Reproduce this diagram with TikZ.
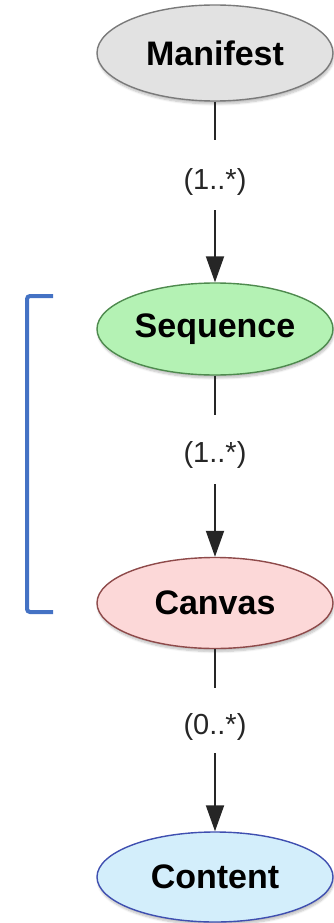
\documentclass[tikz,border=0pt]{standalone}
\usepackage{fontspec}
\setmainfont{Liberation Sans}
\usetikzlibrary{shapes.geometric,arrows.meta,shadows.blur}
\definecolor{mgfill}{HTML}{E2E2E2}\definecolor{mgdraw}{HTML}{7A7A7A}
\definecolor{sqfill}{HTML}{B4F2B4}\definecolor{sqdraw}{HTML}{4E8A4E}
\definecolor{cvfill}{HTML}{FCD8D8}\definecolor{cvdraw}{HTML}{8E4A4A}
\definecolor{ctfill}{HTML}{D3EEFB}\definecolor{ctdraw}{HTML}{3F4FB0}
\definecolor{brk}{HTML}{4472C4}
\definecolor{ln}{HTML}{262626}
\tikzset{
  cls/.style={ellipse, draw, line width=1.4pt, minimum width=236pt, inner sep=0pt,
    font=\fontsize{34}{38}\selectfont\bfseries, text=black,
    blur shadow={shadow xshift=1pt, shadow yshift=-3pt, shadow blur steps=6, shadow opacity=25}},
  mult/.style={font=\fontsize{29}{32}\selectfont, text=ln, inner sep=0pt},
  conn/.style={draw=ln, line width=1.9pt},
  arr/.style={conn, -{Triangle[length=26pt,width=18pt]}}
}
\begin{document}
\begin{tikzpicture}[x=1pt,y=-1pt]
\useasboundingbox (0,0) rectangle (333,923);
\node[cls, fill=mgfill, draw=mgdraw, minimum height=96pt] (m) at (215,53) {Manifest};
\node[cls, fill=sqfill, draw=sqdraw, minimum height=92pt] (s) at (215,329) {Sequence};
\node[cls, fill=cvfill, draw=cvdraw, minimum height=91pt] (c) at (215,603) {Canvas};
\node[cls, fill=ctfill, draw=ctdraw, minimum height=90pt] (t) at (215,877) {Content};
\coordinate (a1) at (215,140); \node[mult] (l1) at (215,182) {(1..*)}; \coordinate (b1) at (215,210);
\coordinate (a2) at (215,415); \node[mult] (l2) at (215,455) {(1..*)}; \coordinate (b2) at (215,484);
\coordinate (a3) at (215,688); \node[mult] (l3) at (215,727) {(0..*)}; \coordinate (b3) at (215,753);
\draw[conn] (m) -- (a1); \draw[arr] (b1) -- (s);
\draw[conn] (s) -- (a2); \draw[arr] (b2) -- (c);
\draw[conn] (c) -- (a3); \draw[arr] (b3) -- (t);
\coordinate (k1) at (53,296); \coordinate (k2) at (27,296);
\coordinate (k3) at (27,612); \coordinate (k4) at (53,612);
\draw[brk, line width=4pt, rounded corners=3pt] (k1) -- (k2) -- (k3) -- (k4);
\end{tikzpicture}
\end{document}
